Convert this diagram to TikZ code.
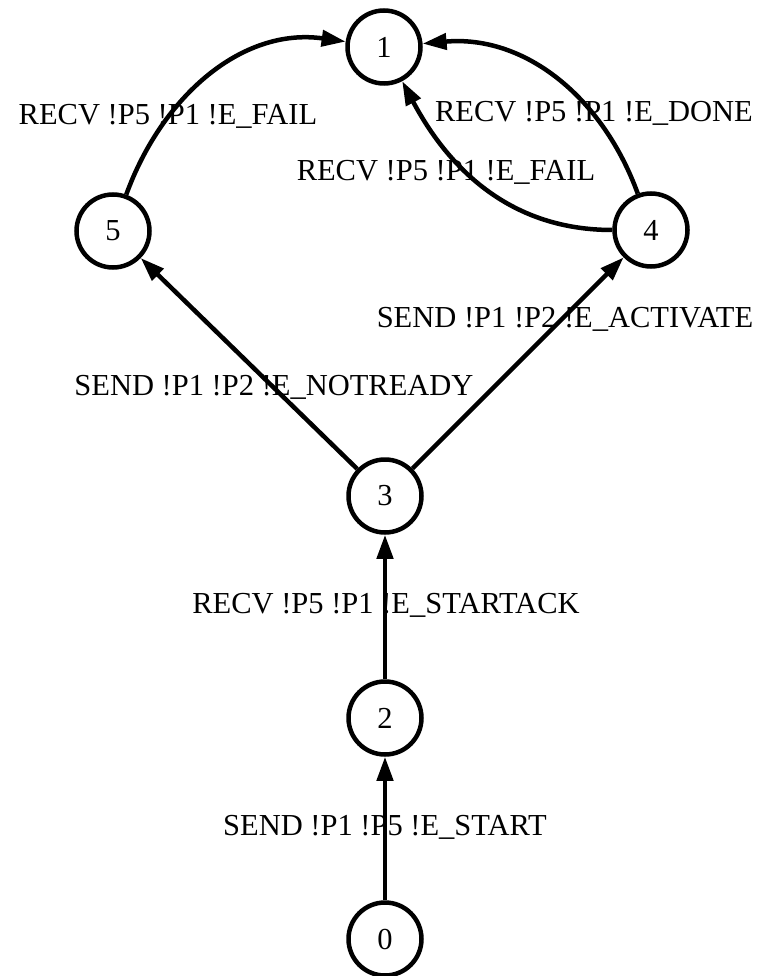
\documentclass[tikz,border=0pt]{standalone}
\usepackage{fontspec}
\setmainfont{Liberation Serif}
\usetikzlibrary{arrows.meta}
\begin{document}
\begin{tikzpicture}[x=1pt,y=-1pt,
  state/.style={circle,draw,line width=4.5pt,minimum size=73pt,inner sep=0pt,font=\fontsize{30.5}{36}\selectfont},
  lbl/.style={inner sep=0pt,anchor=base,font=\fontsize{30.5}{36}\selectfont},
  edge/.style={line width=4.5pt,-{Triangle[length=24pt,width=16pt]}}]
\useasboundingbox[fill=white] (0,0) rectangle (762,976);
\node[state] (n1) at (384,47) {1};
\node[state] (n5) at (113,231) {5};
\node[state] (n4) at (651,230) {4};
\node[state] (n3) at (385,496) {3};
\node[state] (n2) at (385,718) {2};
\node[state] (n0) at (385,939) {0};
\node[lbl] (l51) at (168,125) {RECV !P5 !P1 !E\_FAIL};
\node[lbl] (l41a) at (594,122) {RECV !P5 !P1 !E\_DONE};
\node[lbl] (l41b) at (446,181) {RECV !P5 !P1 !E\_FAIL};
\node[lbl] (l34) at (565,327) {SEND !P1 !P2 !E\_ACTIVATE};
\node[lbl] (l35) at (274,395) {SEND !P1 !P2 !E\_NOTREADY};
\node[lbl] (l23) at (386,613) {RECV !P5 !P1 !E\_STARTACK};
\node[lbl] (l02) at (385,835) {SEND !P1 !P5 !E\_START};
\draw[edge] (n0) -- (n2);
\draw[edge] (n2) -- (n3);
\draw[edge] (n3) -- (n5);
\draw[edge] (n3) -- (n4);
\draw[edge] (n5) to[out=70,in=172] (n1);
\draw[edge] (n4) to[out=110,in=5] (n1);
\draw[edge] (n4) to[out=180,in=-62] (n1);
\end{tikzpicture}
\end{document}
